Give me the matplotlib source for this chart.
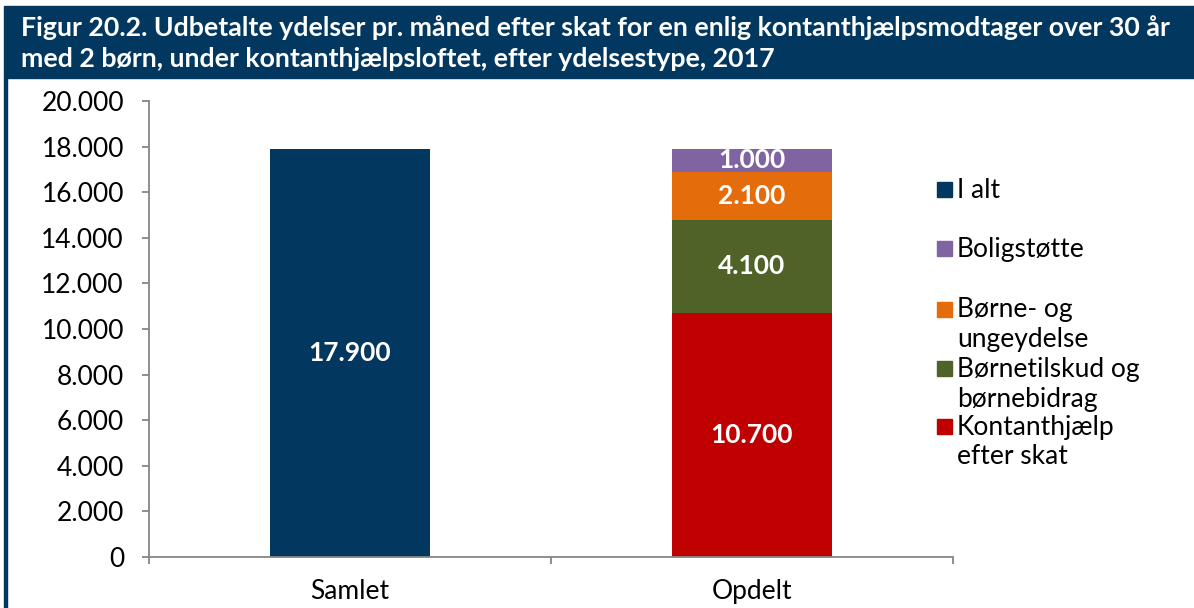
import matplotlib
matplotlib.use('Agg')
import matplotlib.pyplot as plt
from matplotlib.patches import Rectangle

plt.rcParams['font.family'] = ['Lato', 'DejaVu Sans']

# ---- data ----
title_lines = [
    "Figur 20.2. Udbetalte ydelser pr. måned efter skat for en enlig kontanthjælpsmodtager over 30 år",
    "med 2 børn, under kontanthjælpsloftet, efter ydelsestype, 2017",
]
categories = ["Samlet", "Opdelt"]
total_label = "I alt"
total_value = [17900]
component_labels = ["Kontanthjælp\nefter skat", "Børnetilskud og\nbørnebidrag",
                    "Børne- og\nungeydelse", "Boligstøtte"]
component_values = [10700, 4100, 2100, 1000]
yticks = list(range(0, 20001, 2000))

# ---- style ----
navy = '#02375F'
comp_colors = ['#C00000', '#4F6228', '#E46C0A', '#8064A2']
gray = '#868686'

W, H = 1194, 608
fig = plt.figure(figsize=(W / 100, H / 100), dpi=100)

def fx(px):
    return px / W

def fy(py):
    return 1 - py / H

# title bar and left frame
fig.patches.append(Rectangle((fx(4), fy(78)), 1 - fx(4), 72 / H,
                             transform=fig.transFigure, color=navy, zorder=0))
fig.patches.append(Rectangle((fx(4), 0), 3.5 / W, fy(78),
                             transform=fig.transFigure, color=navy, zorder=0))
for i, line in enumerate(title_lines):
    fig.text(fx(21), fy(28 + 31 * i), line, color='white', fontsize=19.3,
             fontweight='bold', ha='left', va='center')

def dk(v):
    return f"{v:,.0f}".replace(',', '.')

ax = fig.add_axes([fx(149), fy(557), (953 - 149) / W, (557 - 101) / H])
x = list(range(len(categories)))
width = 0.4

b0 = ax.bar([x[0]], total_value, width=width, color=navy, label=total_label)
ax.bar_label(b0, labels=[dk(v) for v in total_value], label_type='center',
             color='white', fontsize=19, fontweight='bold')

bottom = 0
for lab, val, col in zip(component_labels, component_values, comp_colors):
    b = ax.bar([x[1]], [val], bottom=[bottom], width=width, color=col, label=lab)
    ax.bar_label(b, labels=[dk(val)], label_type='center',
                 color='white', fontsize=19, fontweight='bold')
    bottom += val

ax.set_xlim(-0.5, len(categories) - 0.5)
ax.set_ylim(0, 20000)
ax.set_yticks(yticks)
ax.set_yticklabels([dk(v) for v in yticks], fontsize=19)
ax.set_xticks([i - 0.5 for i in range(len(categories) + 1)])
ax.set_xticklabels([])
ax.set_xticks(x, minor=True)
ax.set_xticklabels(categories, minor=True, fontsize=19)
ax.tick_params(axis='x', which='minor', length=0, pad=16)
ax.tick_params(axis='x', which='major', length=5, width=1.3, color=gray, direction='out')
ax.tick_params(axis='y', length=5, width=1.3, color=gray, direction='out', pad=13)
for s in ['top', 'right']:
    ax.spines[s].set_visible(False)
for s in ['left', 'bottom']:
    ax.spines[s].set_color(gray)
    ax.spines[s].set_linewidth(1.3)

# legend (manual, Excel-like spacing)
legend_labels = [total_label] + component_labels[::-1]
legend_colors = [navy] + comp_colors[::-1]
legend_y = [190, 249, 310, 369, 427]
for lab, col, yy in zip(legend_labels, legend_colors, legend_y):
    fig.patches.append(Rectangle((fx(937), fy(yy + 7)), 15 / W, 15 / H,
                                 transform=fig.transFigure, color=col))
    for j, part in enumerate(lab.split('\n')):
        fig.text(fx(957), fy(yy + 30 * j), part, fontsize=19,
                 ha='left', va='center', color='black')

fig.savefig('out.png', dpi=100, facecolor='white')
